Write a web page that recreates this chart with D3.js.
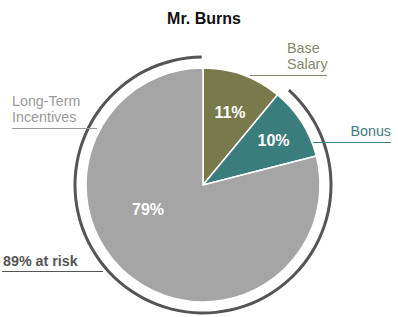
<!DOCTYPE html>
<html><head><meta charset="utf-8">
<script src="https://cdn.jsdelivr.net/npm/d3@7"></script>
<style>body{margin:0;background:#fff;} svg{display:block;font-family:Arial,"Liberation Sans",sans-serif;}</style>
</head><body>
<script>
const title = "Mr. Burns";
const categories = ["Base Salary", "Bonus", "Long-Term Incentives"];
const values = [11, 10, 79];
const valueLabels = ["11%", "10%", "79%"];
const colors = ["#787a4c", "#3b7c7d", "#a5a5a5"];
const atRiskLabel = "89% at risk";

const W = 398, H = 317;
const cx = 203, cy = 185, R = 117, R2 = 128;
const svg = d3.select("body").append("svg").attr("width", W).attr("height", H);

svg.append("text").attr("x", 204).attr("y", 24).attr("text-anchor", "middle")
  .attr("font-weight", "bold").attr("font-size", 16).attr("fill", "#111").text(title);

const pie = d3.pie().sort(null).value(d => d)(values);
const arc = d3.arc().innerRadius(0).outerRadius(R);
const g = svg.append("g").attr("transform", `translate(${cx},${cy})`);
g.selectAll("path.slice").data(pie).join("path").attr("class", "slice")
  .attr("d", arc).attr("fill", (d, i) => colors[i]).attr("stroke", "#fff").attr("stroke-width", 1.5);

// at-risk arc
const total = d3.sum(values);
const startA = 2 * Math.PI * values[0] / total + 0.045;
const outer = d3.arc().innerRadius(R2 - 1.5).outerRadius(R2 + 1.5).startAngle(startA).endAngle(2 * Math.PI - 0.01);
g.append("path").attr("d", outer()).attr("fill", "#555");

// percent labels
const labelPos = [[230, 118], [273.5, 146], [148, 215]];
svg.selectAll("text.pct").data(valueLabels).join("text").attr("class", "pct")
  .attr("x", (d, i) => labelPos[i][0]).attr("y", (d, i) => labelPos[i][1])
  .attr("text-anchor", "middle").attr("font-weight", "bold").attr("font-size", 16)
  .attr("fill", "#fff").text(d => d);

// category labels
function lab(lines, x, y, anchor, color, lx1, lx2, ly, bold) {
  const t = svg.append("text").attr("x", x).attr("y", y).attr("text-anchor", anchor)
    .attr("font-size", 14.3).attr("fill", color).attr("font-weight", bold ? "bold" : "normal");
  lines.forEach((l, i) => t.append("tspan").attr("x", x).attr("dy", i ? 16 : 0).text(l));
  svg.append("line").attr("x1", lx1).attr("x2", lx2).attr("y1", ly).attr("y2", ly)
    .attr("stroke", color).attr("stroke-width", 1);
}
lab(["Base", "Salary"], 287, 53, "start", "#85876a", 250, 327, 75.5);
lab(["Bonus"], 391, 136, "end", "#3f7c7d", 313, 391, 142.5);
lab(["Long-Term", "Incentives"], 12, 106, "start", "#9a9a9a", 12, 97, 128.5);
lab([atRiskLabel], 3, 266, "start", "#555", 2, 103, 271.5, true);
</script>
</body></html>
